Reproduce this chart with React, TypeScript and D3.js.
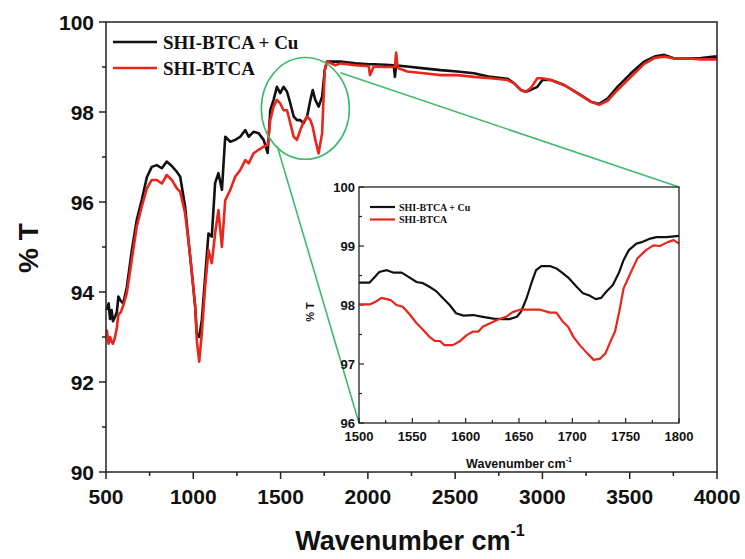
import React from "react";
import * as d3 from "d3";

// ---------- Main spectrum data ----------
const mainWn = [504, 515, 523, 532, 540, 552, 562, 571, 585, 599, 619, 647, 676, 705, 734, 762, 791, 820, 848, 877, 906, 925, 953, 972, 992, 1011, 1020, 1034, 1049, 1068, 1087, 1106, 1125, 1144, 1164, 1183, 1212, 1240, 1269, 1298, 1317, 1345, 1374, 1403, 1426, 1441, 1460, 1479, 1498, 1517, 1537, 1556, 1575, 1594, 1613, 1632, 1652, 1671, 1684, 1699, 1718, 1738, 1753, 1766, 1814, 1843, 1929, 2005, 2012, 2034, 2101, 2148, 2155, 2162, 2170, 2225, 2321, 2417, 2512, 2608, 2703, 2799, 2837, 2876, 2904, 2933, 2971, 3000, 3048, 3124, 3201, 3277, 3325, 3373, 3430, 3507, 3583, 3641, 3698, 3756, 3832, 3909, 3985, 4000];
const cuT = [93.6, 93.75, 93.4, 93.6, 93.35, 93.45, 93.55, 93.9, 93.8, 93.75, 94.1, 94.9, 95.6, 96.05, 96.55, 96.78, 96.82, 96.75, 96.9, 96.8, 96.67, 96.56, 95.9, 95.16, 94.42, 93.67, 93.09, 93.0, 93.38, 94.34, 95.3, 95.23, 96.42, 96.64, 96.27, 97.45, 97.34, 97.38, 97.45, 97.6, 97.45, 97.56, 97.53, 97.38, 97.09, 98.04, 98.27, 98.56, 98.42, 98.56, 98.45, 98.19, 97.9, 97.82, 97.82, 97.75, 97.9, 98.27, 98.49, 98.27, 98.12, 98.34, 98.93, 99.12, 99.12, 99.12, 99.08, 99.06, 99.06, 99.06, 99.05, 99.04, 98.78, 99.04, 99.03, 99.01, 98.97, 98.93, 98.9, 98.86, 98.78, 98.74, 98.64, 98.49, 98.45, 98.49, 98.56, 98.71, 98.71, 98.6, 98.42, 98.23, 98.18, 98.3, 98.56, 98.86, 99.12, 99.23, 99.27, 99.19, 99.19, 99.2, 99.23, 99.23];
const btcaT = [93.16, 92.85, 93.0, 92.9, 92.85, 93.0, 93.2, 93.5, 93.55, 93.7, 93.97, 94.7, 95.45, 95.9, 96.3, 96.49, 96.49, 96.41, 96.6, 96.49, 96.3, 96.23, 95.75, 95.16, 94.42, 93.67, 92.93, 92.45, 93.09, 94.12, 94.93, 94.64, 95.3, 95.82, 95.0, 96.04, 96.27, 96.56, 96.71, 96.93, 96.86, 97.08, 97.16, 97.23, 97.27, 97.82, 98.12, 98.27, 98.19, 98.04, 98.04, 97.75, 97.45, 97.38, 97.6, 97.78, 97.9, 97.82, 97.67, 97.38, 97.08, 97.53, 98.93, 99.12, 99.04, 99.08, 99.04, 99.02, 98.82, 99.01, 99.0, 99.0, 99.0, 99.32, 98.98, 98.9, 98.86, 98.82, 98.82, 98.78, 98.75, 98.71, 98.64, 98.49, 98.45, 98.53, 98.75, 98.75, 98.71, 98.6, 98.42, 98.23, 98.16, 98.25, 98.49, 98.78, 99.07, 99.2, 99.23, 99.19, 99.19, 99.17, 99.17, 99.17];

// ---------- Inset data (1500-1800 cm-1) ----------
const insetCuWn = [1500, 1510, 1515, 1519, 1526, 1532, 1540, 1546, 1554, 1560, 1566, 1572, 1579, 1585, 1591, 1598, 1607, 1616, 1626, 1635, 1641, 1648, 1652, 1657, 1662, 1666, 1671, 1679, 1685, 1691, 1697, 1704, 1710, 1716, 1722, 1727, 1732, 1738, 1744, 1748, 1753, 1760, 1766, 1772, 1779, 1788, 1800];
const insetCuT = [98.38, 98.38, 98.48, 98.56, 98.59, 98.55, 98.55, 98.48, 98.39, 98.37, 98.31, 98.24, 98.11, 98.0, 97.86, 97.82, 97.83, 97.8, 97.77, 97.76, 97.76, 97.8, 97.89, 98.11, 98.39, 98.59, 98.66, 98.66, 98.62, 98.54, 98.45, 98.31, 98.2, 98.16, 98.1, 98.12, 98.23, 98.34, 98.56, 98.76, 98.93, 99.04, 99.07, 99.12, 99.15, 99.15, 99.17];
const insetBtcaWn = [1500, 1510, 1516, 1521, 1526, 1530, 1535, 1541, 1548, 1554, 1560, 1566, 1571, 1576, 1580, 1588, 1594, 1601, 1607, 1612, 1616, 1623, 1630, 1638, 1644, 1651, 1660, 1670, 1679, 1685, 1691, 1696, 1701, 1707, 1714, 1720, 1726, 1731, 1735, 1740, 1744, 1748, 1755, 1761, 1769, 1776, 1782, 1790, 1795, 1800];
const insetBtcaT = [98.01, 98.01, 98.06, 98.12, 98.1, 98.08, 98.0, 97.97, 97.83, 97.69, 97.58, 97.46, 97.39, 97.39, 97.32, 97.32, 97.38, 97.49, 97.55, 97.55, 97.63, 97.69, 97.75, 97.8, 97.88, 97.92, 97.92, 97.92, 97.87, 97.87, 97.72, 97.63, 97.46, 97.32, 97.18, 97.07, 97.09, 97.18, 97.35, 97.55, 97.89, 98.28, 98.56, 98.79, 98.93, 99.01, 99.0, 99.07, 99.1, 99.04];

// ---------- Ticks ----------
const mainXTicks = [500, 1000, 1500, 2000, 2500, 3000, 3500, 4000];
const mainXMinor = [750, 1250, 1750, 2250, 2750, 3250, 3750];
const mainYTicks = [90, 92, 94, 96, 98, 100];
const mainYMinor = [91, 93, 95, 97, 99];
const insetXTicks = [1500, 1550, 1600, 1650, 1700, 1750, 1800];
const insetXMinor = [1525, 1575, 1625, 1675, 1725, 1775];
const insetYTicks = [96, 97, 98, 99, 100];
const insetYMinor = [96.5, 97.5, 98.5, 99.5];

const seriesNames = ["SHI-BTCA + Cu", "SHI-BTCA"];
const seriesColors = ["#111111", "#e8261c"];

// zoom ellipse (data coords of main chart) and connection points
const zoomCenter = { wn: 1642, t: 98.08, rWn: 252, rT: 1.13 };
const zoomLineStarts = [
  { wn: 1481, t: 97.24 },
  { wn: 1843, t: 98.87 },
];
const GREEN = "#3dba6c";

const SANS = "'Liberation Sans', Arial, Helvetica, sans-serif";
const SERIF = "'Liberation Serif', 'Times New Roman', serif";

export default function App() {
  const x = d3.scaleLinear().domain([500, 4000]).range([106, 717]);
  const y = d3.scaleLinear().domain([90, 100]).range([472, 22]);
  const xi = d3.scaleLinear().domain([1500, 1800]).range([359, 679]);
  const yi = d3.scaleLinear().domain([96, 100]).range([423, 187]);

  const mainLine = (vals: number[]) =>
    d3
      .line<number>()
      .x((_, i) => x(mainWn[i]))
      .y((d) => y(d))(vals) || "";

  const insetLine = (wn: number[], t: number[]) =>
    d3
      .line<number>()
      .x((_, i) => xi(wn[i]))
      .y((d) => yi(d))(t) || "";

  const cx = x(zoomCenter.wn);
  const cy = y(zoomCenter.t);
  const rx = x(zoomCenter.wn + zoomCenter.rWn) - cx;
  const ry = y(zoomCenter.t - zoomCenter.rT) - cy;

  const [x0, x1] = x.range();
  const [yb, yt] = y.range();
  const [ix0, ix1] = xi.range();
  const [iyb, iyt] = yi.range();

  return (
    <svg
      width={745}
      height={559}
      style={{ position: "absolute", left: 0, top: 0, background: "#fff" }}
    >
      <rect width={745} height={559} fill="#fff" />

      {/* main ticks */}
      <g stroke="#222" strokeWidth={1.5}>
        {mainXTicks.map((v) => (
          <line key={"xt" + v} x1={x(v)} x2={x(v)} y1={yb} y2={yb + 7} />
        ))}
        {mainXMinor.map((v) => (
          <line key={"xm" + v} x1={x(v)} x2={x(v)} y1={yb} y2={yb + 4} />
        ))}
        {mainYTicks.map((v) => (
          <line key={"yt" + v} x1={x0 - 7} x2={x0} y1={y(v)} y2={y(v)} />
        ))}
        {mainYMinor.map((v) => (
          <line key={"ym" + v} x1={x0 - 4} x2={x0} y1={y(v)} y2={y(v)} />
        ))}
      </g>
      <g fontFamily={SANS} fontWeight="bold" fontSize={21} fill="#111">
        {mainXTicks.map((v) => (
          <text key={"xl" + v} x={x(v)} y={yb + 32} textAnchor="middle">
            {v}
          </text>
        ))}
        {mainYTicks.map((v) => (
          <text key={"yl" + v} x={x0 - 12} y={y(v) + 7.5} textAnchor="end">
            {v}
          </text>
        ))}
      </g>
      {/* axis titles */}
      <text
        x={410}
        y={550}
        textAnchor="middle"
        fontFamily={SANS}
        fontWeight="bold"
        fontSize={27}
        fill="#111"
      >
        Wavenumber cm
        <tspan fontSize={16} dy={-14}>
          -1
        </tspan>
      </text>
      <text
        transform="translate(38,248) rotate(-90)"
        textAnchor="middle"
        fontFamily={SANS}
        fontWeight="bold"
        fontSize={28}
        fill="#111"
      >
        % T
      </text>

      {/* main curves */}
      <path d={mainLine(cuT)} fill="none" stroke={seriesColors[0]} strokeWidth={2.6} strokeLinejoin="round" />
      <path d={mainLine(btcaT)} fill="none" stroke={seriesColors[1]} strokeWidth={2.6} strokeLinejoin="round" />

      {/* main frame */}
      <rect
        x={x0}
        y={yt}
        width={x1 - x0}
        height={yb - yt}
        fill="none"
        stroke="#222"
        strokeWidth={1.5}
      />

      {/* main legend */}
      {seriesNames.map((n, i) => (
        <g key={"lg" + i}>
          <line x1={113} x2={157} y1={42 + i * 26} y2={42 + i * 26} stroke={seriesColors[i]} strokeWidth={2.6} />
          <text
            x={163}
            y={49 + i * 26}
            fontFamily={SERIF}
            fontWeight="bold"
            fontSize={19}
            fill="#111"
          >
            {n}
          </text>
        </g>
      ))}

      {/* zoom ellipse + connectors */}
      <ellipse cx={cx} cy={cy} rx={rx} ry={ry} fill="none" stroke={GREEN} strokeWidth={1.6} />
      <line
        x1={x(zoomLineStarts[0].wn)}
        y1={y(zoomLineStarts[0].t)}
        x2={ix0}
        y2={iyb}
        stroke={GREEN}
        strokeWidth={1.6}
      />
      <line
        x1={x(zoomLineStarts[1].wn)}
        y1={y(zoomLineStarts[1].t)}
        x2={ix1}
        y2={iyt}
        stroke={GREEN}
        strokeWidth={1.6}
      />

      {/* inset */}
      <g stroke="#222" strokeWidth={1.2}>
        {insetXTicks.map((v) => (
          <line key={"ixt" + v} x1={xi(v)} x2={xi(v)} y1={iyb} y2={iyb - 5} />
        ))}
        {insetXMinor.map((v) => (
          <line key={"ixm" + v} x1={xi(v)} x2={xi(v)} y1={iyb} y2={iyb - 3} />
        ))}
        {insetYTicks.map((v) => (
          <line key={"iyt" + v} x1={ix0} x2={ix0 + 5} y1={yi(v)} y2={yi(v)} />
        ))}
        {insetYMinor.map((v) => (
          <line key={"iym" + v} x1={ix0} x2={ix0 + 3} y1={yi(v)} y2={yi(v)} />
        ))}
      </g>
      <path d={insetLine(insetCuWn, insetCuT)} fill="none" stroke={seriesColors[0]} strokeWidth={2.2} strokeLinejoin="round" />
      <path d={insetLine(insetBtcaWn, insetBtcaT)} fill="none" stroke={seriesColors[1]} strokeWidth={2.2} strokeLinejoin="round" />
      <rect
        x={ix0}
        y={iyt}
        width={ix1 - ix0}
        height={iyb - iyt}
        fill="none"
        stroke="#222"
        strokeWidth={1.3}
      />
      <g fontFamily={SANS} fontWeight="bold" fontSize={13} fill="#111">
        {insetXTicks.map((v) => (
          <text key={"ixl" + v} x={xi(v)} y={iyb + 18} textAnchor="middle">
            {v}
          </text>
        ))}
        {insetYTicks.map((v) => (
          <text key={"iyl" + v} x={ix0 - 4} y={yi(v) + 4.5} textAnchor="end">
            {v}
          </text>
        ))}
      </g>
      <text
        x={(ix0 + ix1) / 2}
        y={468}
        textAnchor="middle"
        fontFamily={SANS}
        fontWeight="bold"
        fontSize={12.5}
        fill="#111"
      >
        Wavenumber cm
        <tspan fontSize={7} dy={-6}>
          -1
        </tspan>
      </text>
      <text
        transform="translate(314,312) rotate(-90)"
        textAnchor="middle"
        fontFamily={SANS}
        fontWeight="bold"
        fontSize={11}
        fill="#111"
      >
        % T
      </text>
      {seriesNames.map((n, i) => (
        <g key={"ilg" + i}>
          <line x1={370} x2={395} y1={207 + i * 12.5} y2={207 + i * 12.5} stroke={seriesColors[i]} strokeWidth={2.2} />
          <text
            x={399}
            y={210.5 + i * 12.5}
            fontFamily={SERIF}
            fontWeight="bold"
            fontSize={10}
            fill="#111"
          >
            {n}
          </text>
        </g>
      ))}
    </svg>
  );
}
